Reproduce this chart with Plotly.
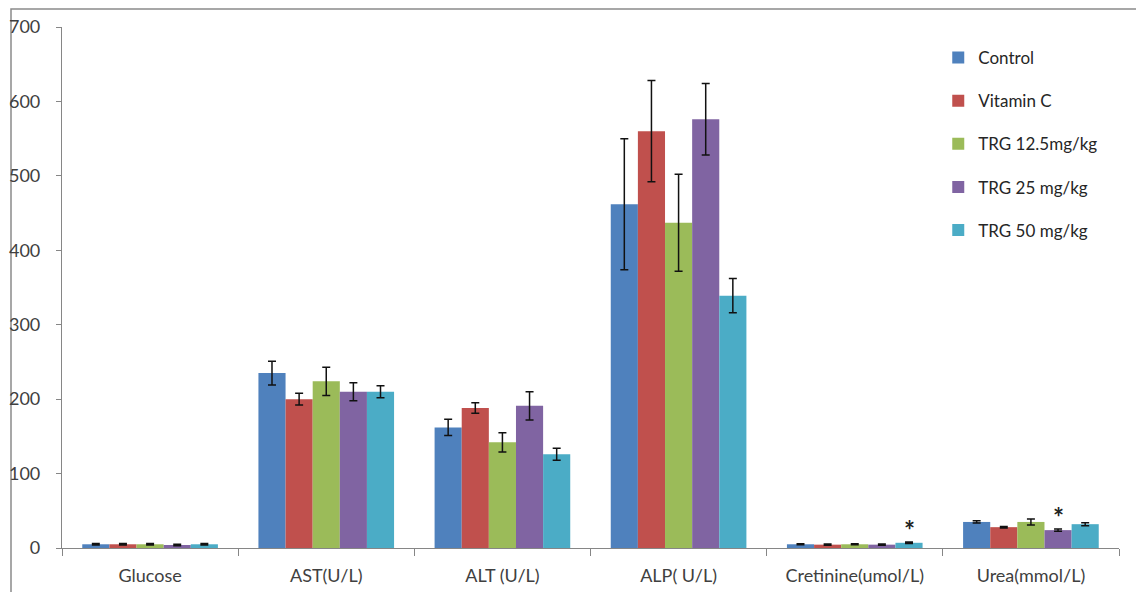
import plotly.graph_objects as go

# Biochemical parameters measured per treatment group
categories = ["Glucose", "AST(U/L)", "ALT (U/L)", "ALP( U/L)",
              "Cretinine(umol/L)", "Urea(mmol/L)"]

groups = ["Control", "Vitamin C", "TRG 12.5mg/kg", "TRG 25 mg/kg", "TRG 50 mg/kg"]

control_mean = [5, 235, 162, 462, 5, 35]
control_err = [1, 16, 11, 88, 0.8, 1.5]

vitc_mean = [5, 200, 188, 560, 4.5, 28]
vitc_err = [1, 8, 7, 68, 0.8, 1]

trg125_mean = [5, 224, 142, 437, 5, 35]
trg125_err = [1, 19, 13, 65, 0.8, 4]

trg25_mean = [4, 210, 191, 576, 4.5, 24]
trg25_err = [1, 12, 19, 48, 0.8, 1.5]

trg50_mean = [5, 210, 126, 339, 7, 32]
trg50_err = [1, 8, 8, 23, 1, 2]

colors = ["#4F81BD", "#C0504D", "#9BBB59", "#8064A2", "#4BACC6"]

# significance marks: (category, group index)
significant = [("Cretinine(umol/L)", 4), ("Urea(mmol/L)", 3)]

means = [control_mean, vitc_mean, trg125_mean, trg25_mean, trg50_mean]
errs = [control_err, vitc_err, trg125_err, trg25_err, trg50_err]

W, H = 1136, 592
margin = dict(l=62, r=17, t=27, b=44)
bargap = 0.23
font_family = "Lato, 'Open Sans', sans-serif"

fig = go.Figure()
for name, m, e, c in zip(groups, means, errs, colors):
    fig.add_trace(go.Bar(
        x=categories, y=m, name=name, marker_color=c, marker_line_width=0,
        legendgroup=name,
        error_y=dict(type="data", array=e, visible=True, color="#111111",
                     thickness=1.5, width=4),
    ))

# asterisks above the flagged bars
plot_w = W - margin["l"] - margin["r"]
cat_w = plot_w / len(categories)
bar_w = cat_w * (1 - bargap) / len(groups)
for cat, gi in significant:
    ci = categories.index(cat)
    top = means[gi][ci] + errs[gi][ci]
    fig.add_annotation(
        x=cat, y=top, xref="x", yref="y", text="<b>*</b>", showarrow=False,
        xshift=(gi - (len(groups) - 1) / 2) * bar_w,
        yanchor="middle", yshift=12,
        font=dict(size=26, color="#222222", family=font_family),
    )

# outer chart frame
x_span = plot_w
y_span = H - margin["t"] - margin["b"]
fig.add_shape(
    type="rect", xref="paper", yref="paper",
    x0=(11 - margin["l"]) / x_span, x1=(W + 20 - margin["l"]) / x_span,
    y0=-(H + 20 - margin["t"] - y_span) / y_span, y1=(H - 9 - margin["b"]) / y_span,
    line=dict(color="#8a8a8a", width=1.5), fillcolor="rgba(0,0,0,0)", layer="below",
)

fig.update_layout(
    width=W, height=H, margin=margin,
    paper_bgcolor="white", plot_bgcolor="white",
    barmode="group", bargap=bargap, bargroupgap=0,
    font=dict(family=font_family, color="#404040"),
    showlegend=True,
    legend=dict(
        x=0.829, y=0.975, xanchor="left", yanchor="top",
        font=dict(size=17, color="#262626"),
        traceorder="grouped", tracegroupgap=18,
        itemwidth=30, bgcolor="rgba(0,0,0,0)",
    ),
    xaxis=dict(
        type="category", showline=True, linecolor="#868686", linewidth=1.2,
        ticks="outside", tickson="boundaries", ticklen=7, tickcolor="#868686",
        tickfont=dict(size=18, color="#404040"), showgrid=False,
        ticklabelstandoff=11, automargin=False,
    ),
    yaxis=dict(
        range=[0, 700], dtick=100, showline=True, linecolor="#868686",
        linewidth=1.2, ticks="outside", ticklen=5, tickcolor="#868686",
        tickfont=dict(size=18, color="#404040"), showgrid=False, zeroline=False,
        ticklabelstandoff=12, automargin=False,
    ),
)

fig.write_html("out.html")
